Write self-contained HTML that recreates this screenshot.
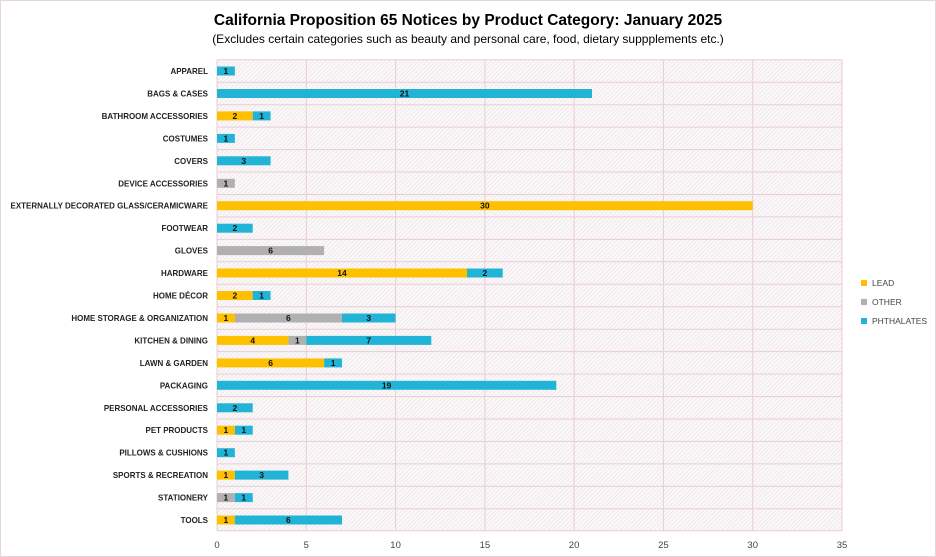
<!DOCTYPE html>
<html><head><meta charset="utf-8"><style>
body{margin:0;background:#fff}
svg{display:block;font-family:"Liberation Sans",sans-serif}
.c{font-size:8.5px;font-weight:bold;fill:#222;text-anchor:end}
.v{font-size:8.5px;font-weight:bold;fill:#111;text-anchor:middle}
.t{font-size:9.5px;fill:#444;text-anchor:middle}
</style></head><body>
<svg width="936" height="557" viewBox="0 0 936 557">
<defs><pattern id="h" width="3" height="3" patternUnits="userSpaceOnUse" patternTransform="rotate(45)"><rect width="3" height="3" fill="#fbf8f9"/><line x1="0" y1="0" x2="0" y2="3" stroke="#e9dfe2" stroke-width="1.2"/></pattern></defs>
<rect x="0.5" y="0.5" width="935" height="556" fill="#fff" stroke="#e6d5da"/>
<text x="468" y="25" text-anchor="middle" font-size="15.5" font-weight="bold" fill="#000">California  Proposition 65 Notices by Product Category: January 2025</text>
<text x="468" y="43" text-anchor="middle" font-size="12" fill="#000">(Excludes certain categories such as beauty and personal care, food, dietary suppplements etc.)</text>
<rect x="217" y="59.8" width="625" height="471" fill="url(#h)"/>
<g stroke="#e8cdd5" stroke-width="1">
<line x1="217" y1="59.8" x2="217" y2="530.8"/><line x1="306.3" y1="59.8" x2="306.3" y2="530.8"/><line x1="395.6" y1="59.8" x2="395.6" y2="530.8"/><line x1="484.9" y1="59.8" x2="484.9" y2="530.8"/><line x1="574.1" y1="59.8" x2="574.1" y2="530.8"/><line x1="663.4" y1="59.8" x2="663.4" y2="530.8"/><line x1="752.7" y1="59.8" x2="752.7" y2="530.8"/><line x1="842" y1="59.8" x2="842" y2="530.8"/>
<line x1="217" y1="59.8" x2="842" y2="59.8"/><line x1="217" y1="82.2" x2="842" y2="82.2"/><line x1="217" y1="104.7" x2="842" y2="104.7"/><line x1="217" y1="127.1" x2="842" y2="127.1"/><line x1="217" y1="149.6" x2="842" y2="149.6"/><line x1="217" y1="172" x2="842" y2="172"/><line x1="217" y1="194.5" x2="842" y2="194.5"/><line x1="217" y1="216.9" x2="842" y2="216.9"/><line x1="217" y1="239.4" x2="842" y2="239.4"/><line x1="217" y1="261.8" x2="842" y2="261.8"/><line x1="217" y1="284.3" x2="842" y2="284.3"/><line x1="217" y1="306.7" x2="842" y2="306.7"/><line x1="217" y1="329.2" x2="842" y2="329.2"/><line x1="217" y1="351.6" x2="842" y2="351.6"/><line x1="217" y1="374.1" x2="842" y2="374.1"/><line x1="217" y1="396.5" x2="842" y2="396.5"/><line x1="217" y1="419" x2="842" y2="419"/><line x1="217" y1="441.4" x2="842" y2="441.4"/><line x1="217" y1="463.9" x2="842" y2="463.9"/><line x1="217" y1="486.3" x2="842" y2="486.3"/><line x1="217" y1="508.8" x2="842" y2="508.8"/><line x1="217" y1="530.8" x2="842" y2="530.8"/>
</g>
<g transform="translate(208,0) scale(0.94,1) translate(-208,0)">
<text class="c" x="208" y="74">APPAREL</text>
<text class="c" x="208" y="96.5">BAGS &amp; CASES</text>
<text class="c" x="208" y="119">BATHROOM ACCESSORIES</text>
<text class="c" x="208" y="141.4">COSTUMES</text>
<text class="c" x="208" y="163.8">COVERS</text>
<text class="c" x="208" y="186.3">DEVICE ACCESSORIES</text>
<text class="c" x="208" y="208.7">EXTERNALLY DECORATED GLASS/CERAMICWARE</text>
<text class="c" x="208" y="231.2">FOOTWEAR</text>
<text class="c" x="208" y="253.6">GLOVES</text>
<text class="c" x="208" y="276">HARDWARE</text>
<text class="c" x="208" y="298.5">HOME DÉCOR</text>
<text class="c" x="208" y="321">HOME STORAGE &amp; ORGANIZATION</text>
<text class="c" x="208" y="343.4">KITCHEN &amp; DINING</text>
<text class="c" x="208" y="365.9">LAWN &amp; GARDEN</text>
<text class="c" x="208" y="388.3">PACKAGING</text>
<text class="c" x="208" y="410.8">PERSONAL ACCESSORIES</text>
<text class="c" x="208" y="433.2">PET PRODUCTS</text>
<text class="c" x="208" y="455.7">PILLOWS &amp; CUSHIONS</text>
<text class="c" x="208" y="478.1">SPORTS &amp; RECREATION</text>
<text class="c" x="208" y="500.6">STATIONERY</text>
<text class="c" x="208" y="523">TOOLS</text>
</g>
<g>
<rect x="217" y="66.5" width="17.86" height="9" fill="#22B4D6"/><text class="v" x="225.9" y="74">1</text>
<rect x="217" y="89" width="375" height="9" fill="#22B4D6"/><text class="v" x="404.5" y="96.5">21</text>
<rect x="217" y="111.4" width="35.71" height="9" fill="#FFC000"/><text class="v" x="234.9" y="119">2</text><rect x="252.71" y="111.4" width="17.86" height="9" fill="#22B4D6"/><text class="v" x="261.6" y="119">1</text>
<rect x="217" y="133.9" width="17.86" height="9" fill="#22B4D6"/><text class="v" x="225.9" y="141.4">1</text>
<rect x="217" y="156.3" width="53.57" height="9" fill="#22B4D6"/><text class="v" x="243.8" y="163.8">3</text>
<rect x="217" y="178.8" width="17.86" height="9" fill="#B0B0B0"/><text class="v" x="225.9" y="186.3">1</text>
<rect x="217" y="201.2" width="535.71" height="9" fill="#FFC000"/><text class="v" x="484.9" y="208.7">30</text>
<rect x="217" y="223.7" width="35.71" height="9" fill="#22B4D6"/><text class="v" x="234.9" y="231.2">2</text>
<rect x="217" y="246.1" width="107.14" height="9" fill="#B0B0B0"/><text class="v" x="270.6" y="253.6">6</text>
<rect x="217" y="268.5" width="250" height="9" fill="#FFC000"/><text class="v" x="342" y="276">14</text><rect x="467" y="268.5" width="35.71" height="9" fill="#22B4D6"/><text class="v" x="484.9" y="276">2</text>
<rect x="217" y="291" width="35.71" height="9" fill="#FFC000"/><text class="v" x="234.9" y="298.5">2</text><rect x="252.71" y="291" width="17.86" height="9" fill="#22B4D6"/><text class="v" x="261.6" y="298.5">1</text>
<rect x="217" y="313.5" width="17.86" height="9" fill="#FFC000"/><text class="v" x="225.9" y="321">1</text><rect x="234.86" y="313.5" width="107.14" height="9" fill="#B0B0B0"/><text class="v" x="288.4" y="321">6</text><rect x="342" y="313.5" width="53.57" height="9" fill="#22B4D6"/><text class="v" x="368.8" y="321">3</text>
<rect x="217" y="335.9" width="71.43" height="9" fill="#FFC000"/><text class="v" x="252.7" y="343.4">4</text><rect x="288.43" y="335.9" width="17.86" height="9" fill="#B0B0B0"/><text class="v" x="297.4" y="343.4">1</text><rect x="306.29" y="335.9" width="125" height="9" fill="#22B4D6"/><text class="v" x="368.8" y="343.4">7</text>
<rect x="217" y="358.4" width="107.14" height="9" fill="#FFC000"/><text class="v" x="270.6" y="365.9">6</text><rect x="324.14" y="358.4" width="17.86" height="9" fill="#22B4D6"/><text class="v" x="333.1" y="365.9">1</text>
<rect x="217" y="380.8" width="339.29" height="9" fill="#22B4D6"/><text class="v" x="386.6" y="388.3">19</text>
<rect x="217" y="403.3" width="35.71" height="9" fill="#22B4D6"/><text class="v" x="234.9" y="410.8">2</text>
<rect x="217" y="425.7" width="17.86" height="9" fill="#FFC000"/><text class="v" x="225.9" y="433.2">1</text><rect x="234.86" y="425.7" width="17.86" height="9" fill="#22B4D6"/><text class="v" x="243.8" y="433.2">1</text>
<rect x="217" y="448.2" width="17.86" height="9" fill="#22B4D6"/><text class="v" x="225.9" y="455.7">1</text>
<rect x="217" y="470.6" width="17.86" height="9" fill="#FFC000"/><text class="v" x="225.9" y="478.1">1</text><rect x="234.86" y="470.6" width="53.57" height="9" fill="#22B4D6"/><text class="v" x="261.6" y="478.1">3</text>
<rect x="217" y="493.1" width="17.86" height="9" fill="#B0B0B0"/><text class="v" x="225.9" y="500.6">1</text><rect x="234.86" y="493.1" width="17.86" height="9" fill="#22B4D6"/><text class="v" x="243.8" y="500.6">1</text>
<rect x="217" y="515.5" width="17.86" height="9" fill="#FFC000"/><text class="v" x="225.9" y="523">1</text><rect x="234.86" y="515.5" width="107.14" height="9" fill="#22B4D6"/><text class="v" x="288.4" y="523">6</text>
</g>
<g>
<text class="t" x="217" y="548">0</text><text class="t" x="306.3" y="548">5</text><text class="t" x="395.6" y="548">10</text><text class="t" x="484.9" y="548">15</text><text class="t" x="574.1" y="548">20</text><text class="t" x="663.4" y="548">25</text><text class="t" x="752.7" y="548">30</text><text class="t" x="842" y="548">35</text>
</g>
<g font-size="8.5" fill="#444">
<rect x="861" y="280" width="6" height="6" fill="#FFC000"/><text x="872" y="286">LEAD</text>
<rect x="861" y="299" width="6" height="6" fill="#B0B0B0"/><text x="872" y="305">OTHER</text>
<rect x="861" y="318" width="6" height="6" fill="#22B4D6"/><text x="872" y="324">PHTHALATES</text>
</g>
</svg>
</body></html>
